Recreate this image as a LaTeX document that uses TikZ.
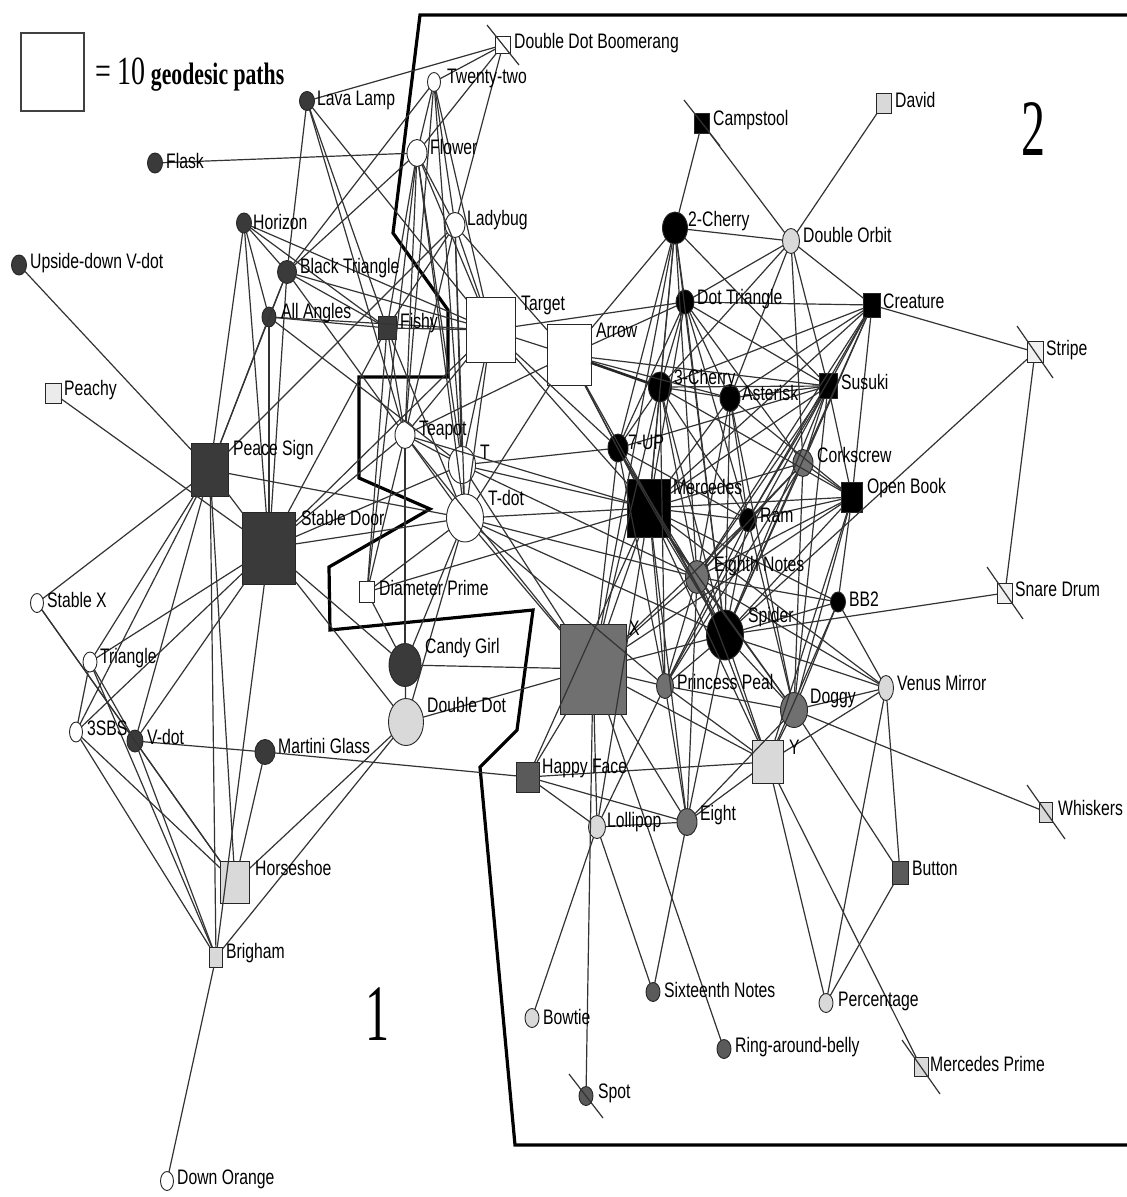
\documentclass[tikz,border=0pt]{standalone}
\usepackage{fontspec}
\usetikzlibrary{shapes.geometric,calc}
\newfontfamily\lblfont[FakeStretch=0.75]{Liberation Sans}
\newfontfamily\legfont[FakeStretch=0.7]{Liberation Serif}
\newfontfamily\numfont[FakeStretch=0.6]{Liberation Serif}
\definecolor{cdark}{HTML}{3A3A3A}
\definecolor{cmid}{HTML}{707070}
\definecolor{cmidd}{HTML}{5A5A5A}
\definecolor{clight}{HTML}{D9D9D9}
\tikzset{
  nd/.style={draw=black!85, line width=0.9pt, inner sep=0pt, outer sep=0pt},
  sq/.style={nd, rectangle},
  ci/.style={nd, ellipse},
  lbl/.style={anchor=west, inner sep=0pt, font={\lblfont\fontsize{21}{21}\selectfont}},
  edg/.style={line width=1.2pt, black!80},
  bnd/.style={line width=3.2pt, black, line join=miter},
}
\newcommand\SQ[6]{\node[sq, fill=#4, minimum width=#5pt, minimum height=#6pt] (#1) at (#2,#3) {};}
\newcommand\CI[6]{\node[ci, fill=#4, minimum width=#5pt, minimum height=#6pt] (#1) at (#2,#3) {};}
\newcommand\LB[4]{\node[lbl] (l#1) at (#2,#3) {#4};}
\begin{document}
\begin{tikzpicture}[x=1pt,y=-1pt]
\fill[white] (0,0) rectangle (1127,1197);
\useasboundingbox (0,0) rectangle (1127,1197);

% ---------- legend ----------
\node[draw=black!75, line width=2pt, minimum width=63pt, minimum height=78pt, inner sep=0pt] (legbox) at (52,72) {};
\node[anchor=west, inner sep=0pt] (legtext) at (95,75) {{\legfont\fontsize{40}{40}\selectfont = 10}\hspace{5pt}{\legfont\bfseries\fontsize{31}{31}\selectfont geodesic paths}};
\node[inner sep=0pt] (num1) at (377,1014) {\numfont\fontsize{80}{80}\selectfont 1};
\node[inner sep=0pt] (num2) at (1033,129) {\numfont\fontsize{80}{80}\selectfont 2};

% ---------- boundary ----------
\draw[bnd] (1127,15) -- (420,15) -- (393,233) -- (448,310) -- (448,377) -- (359,377) -- (359,478)
  -- (430,509) -- (329,567) -- (330,630) -- (533,610) -- (517,730) -- (480,767) -- (515,1145) -- (1127,1145);

% ---------- nodes ----------
\CI{lava}{307}{101}{cdark}{15}{19}
\CI{flask}{155}{163}{cdark}{15}{20}
\CI{horizon}{244}{223}{cdark}{15}{20}
\CI{udv}{19}{265}{cdark}{15}{20}
\CI{btri}{287}{272}{cdark}{19}{23}
\CI{allang}{269}{317}{cdark}{14}{20}
\SQ{fishy}{387}{328}{cdark}{18}{23}
\SQ{peachy}{53}{393}{white!92!black}{16}{20}
\SQ{peace}{210}{470}{cdark}{37}{53}
\SQ{sdoor}{269}{548}{cdark}{53}{72}
\CI{stabx}{37}{603}{white}{13}{19}
\CI{tri}{90}{662}{white}{14}{20}
\CI{sbs}{76}{732}{white}{13}{20}
\CI{vdot}{135}{741}{cdark}{16}{22}
\CI{martini}{265}{752}{cdark}{20}{25}
\SQ{horse}{235}{882}{clight}{29}{42}
\SQ{brig}{216}{957}{clight}{13}{20}
\CI{dorange}{167}{1181}{white}{13}{19}
\CI{twenty}{434}{82}{white}{13}{19}
\SQ{ddb}{503}{45}{white}{15}{17}
\CI{flower}{417}{153}{white}{20}{27}
\CI{lady}{455}{225}{white}{20}{25}
\SQ{target}{491}{330}{white}{49}{65}
\SQ{arrow}{569}{355}{white}{44}{61}
\CI{teapot}{405}{435}{white}{20}{27}
\CI{T}{462}{465}{white}{27}{37}
\CI{tdot}{465}{518}{white}{37}{48}
\SQ{diam}{367}{592}{white}{15}{21}
\CI{candy}{405}{665}{cdark}{32}{43}
\CI{ddot}{406}{722}{clight}{35}{47}
\SQ{happy}{528}{777}{cmidd}{23}{30}
\SQ{X}{593}{669}{cmid}{66}{90}
\CI{lolli}{597}{827}{clight}{17}{23}
\CI{eight}{687}{822}{cmid}{20}{27}
\CI{princess}{665}{686}{cmid}{17}{25}
\CI{eighth}{697}{577}{cmid}{23}{33}
\CI{spider}{725}{635}{black}{37}{50}
\SQ{merc}{649}{508}{black}{43}{58}
\CI{seven}{618}{448}{black}{20}{28}
\CI{cherry3}{660}{387}{black}{23}{30}
\CI{aster}{730}{398}{black}{20}{27}
\CI{dottri}{685}{302}{black}{18}{24}
\CI{cherry2}{675}{228}{black}{25}{32}
\SQ{camp}{702}{123}{black}{15}{20}
\SQ{david}{884}{103}{clight}{15}{20}
\CI{dorbit}{791}{241}{clight}{17}{25}
\SQ{creature}{872}{305}{black}{17}{24}
\SQ{stripe}{1035}{352}{white!94!black}{16}{21}
\SQ{susuki}{828}{386}{black}{18}{25}
\CI{cork}{803}{463}{cmid}{20}{27}
\SQ{obook}{852}{497}{black}{21}{30}
\CI{ram}{748}{520}{black}{17}{23}
\CI{bb2}{838}{602}{black}{15}{20}
\SQ{snare}{1005}{593}{white!94!black}{15}{20}
\CI{venus}{886}{688}{clight}{15}{25}
\CI{doggy}{794}{710}{cmid}{27}{35}
\SQ{Y}{768}{762}{clight}{31}{43}
\SQ{whisk}{1046}{812}{clight}{13}{20}
\SQ{button}{900}{873}{cmidd}{16}{23}
\CI{sixteen}{653}{992}{cmidd}{14}{19}
\CI{perc}{826}{1003}{clight}{14}{19}
\CI{ring}{724}{1049}{cmidd}{14}{19}
\SQ{mprime}{921}{1067}{clight}{14}{19}
\CI{bowtie}{532}{1018}{clight}{14}{19}
\CI{spot}{586}{1096}{cmidd}{14}{19}

% ---------- connectors ----------
\foreach \a/\b in {lava/ddb, lava/btri, lava/fishy, lava/target, lava/teapot,
 flask/flower,
 horizon/btri, horizon/fishy, horizon/peace, horizon/sdoor, horizon/allang, horizon/target,
 udv/peace,
 btri/flower, btri/twenty, btri/fishy, btri/sdoor, btri/peace, btri/target, btri/allang, btri/teapot,
 allang/peace, allang/sdoor, allang/fishy, allang/T, allang/target,
 fishy/target, fishy/teapot, fishy/tdot, fishy/diam,
 peachy/sdoor,
 peace/sdoor, peace/lady, peace/tdot, peace/tri, peace/sbs, peace/vdot, peace/brig, peace/horse, peace/stabx,
 sdoor/target, sdoor/teapot, sdoor/T, sdoor/tdot, sdoor/candy, sdoor/ddot, sdoor/tri, sdoor/sbs, sdoor/vdot, sdoor/brig, sdoor/fishy,
 stabx/vdot, stabx/horse,
 tri/vdot, tri/sbs, tri/brig,
 sbs/horse, sbs/brig,
 vdot/martini, vdot/horse, vdot/brig,
 martini/horse, martini/happy,
 horse/ddot, brig/ddot, brig/dorange,
 ddb/twenty, ddb/flower, ddb/lady,
 twenty/flower, twenty/teapot, twenty/T, twenty/target, twenty/lady,
 flower/lady, flower/target, flower/teapot, flower/T, flower/tdot, flower/diam, flower/fishy,
 lady/target, lady/arrow, lady/tdot, lady/teapot, lady/fishy, lady/T,
 target/arrow, target/T, target/tdot, target/teapot, target/merc, target/dottri, target/seven,
 arrow/cherry3, arrow/aster, arrow/susuki, arrow/merc, arrow/seven, arrow/teapot, arrow/tdot, arrow/dottri, arrow/cherry2, arrow/spider,
 teapot/T, teapot/tdot, teapot/X, teapot/diam, teapot/candy, teapot/merc,
 T/tdot, T/merc, T/seven, T/X, T/eighth,
 tdot/merc, tdot/X, tdot/eighth, tdot/princess, tdot/diam, tdot/candy, tdot/ddot, tdot/spider,
 diam/merc, diam/candy,
 candy/X, candy/ddot, ddot/X,
 merc/seven, merc/cherry3, merc/aster, merc/dottri, merc/cherry2, merc/ram, merc/obook, merc/eighth, merc/spider, merc/princess, merc/X, merc/doggy, merc/Y, merc/eight, merc/cork, merc/susuki, merc/creature, merc/bb2, merc/lolli, merc/happy, merc/venus,
 cherry2/dottri, cherry2/cherry3, cherry2/seven, cherry2/dorbit, cherry2/camp, cherry2/susuki, cherry2/spider, cherry2/eighth, cherry2/X,
 camp/dorbit, david/dorbit, dorbit/creature, dorbit/dottri, dorbit/susuki, dorbit/cork, dorbit/aster, dorbit/cherry3,
 dottri/susuki, dottri/cork, dottri/creature, dottri/aster, dottri/ram, dottri/cherry3, dottri/seven, dottri/spider,
 cherry3/aster, cherry3/susuki, cherry3/spider, cherry3/ram, cherry3/eighth, cherry3/obook, cherry3/creature, cherry3/seven, cherry3/X, cherry3/princess,
 aster/susuki, aster/spider, aster/ram, aster/obook, aster/eighth, aster/creature, aster/doggy,
 seven/X, seven/spider, seven/princess, seven/susuki, seven/ram, seven/eighth,
 creature/stripe, creature/susuki, creature/cork, creature/obook, creature/ram, creature/spider, creature/eighth,
 stripe/spider, stripe/snare,
 susuki/obook, susuki/cork, susuki/ram, susuki/eighth, susuki/spider, susuki/princess, susuki/doggy,
 cork/obook, cork/spider, cork/doggy, cork/ram, cork/princess, cork/eighth,
 obook/ram, obook/spider, obook/bb2, obook/doggy, obook/eighth, obook/Y, obook/X,
 ram/spider, ram/eighth, ram/doggy, ram/princess, ram/X,
 eighth/spider, eighth/bb2, eighth/doggy, eighth/princess, eighth/X, eighth/eight, eighth/venus, eighth/Y,
 spider/bb2, spider/doggy, spider/princess, spider/X, spider/Y, spider/venus, spider/eight, snare/spider,
 bb2/doggy, bb2/Y, bb2/venus,
 princess/X, princess/doggy, princess/Y, princess/eight, princess/lolli,
 doggy/Y, doggy/button, doggy/whisk, doggy/venus, doggy/eight,
 venus/Y, venus/button, venus/perc,
 Y/X, Y/perc, Y/mprime, Y/happy,
 button/perc,
 X/happy, X/lolli, X/spot, X/ring, X/eight,
 happy/lolli, happy/eight,
 lolli/eight, lolli/bowtie, lolli/sixteen,
 eight/sixteen, eight/Y}
 {\draw[edg] (\a) -- (\b);}
\draw[line width=2.6pt, black!85] (arrow) -- (cherry3);

% slash markers
\foreach \n/\dx/\dy in {ddb/16/20, camp/18/23, stripe/18/26, snare/18/26, whisk/19/27, mprime/19/27, spot/17/22}
 {\draw[edg] ($(\n)+(-\dx,-\dy)$) -- ($(\n)+(\dx,\dy)$);}

% ---------- labels ----------
\LB{lava}{317}{100}{Lava Lamp}
\LB{flask}{166}{161}{Flask}
\LB{horizon}{253}{222}{Horizon}
\LB{udv}{30}{263}{Upside-down V-dot}
\LB{btri}{300}{268}{Black Triangle}
\LB{allang}{281}{313}{All Angles}
\LB{fishy}{400}{323}{Fishy}
\LB{peachy}{64}{390}{Peachy}
\LB{peace}{233}{450}{Peace Sign}
\LB{sdoor}{301}{518}{Stable Door}
\LB{stabx}{47}{600}{Stable X}
\LB{tri}{100}{658}{Triangle}
\LB{sbs}{87}{728}{3SBS}
\LB{vdot}{147}{737}{V-dot}
\LB{martini}{278}{746}{Martini Glass}
\LB{horse}{255}{868}{Horseshoe}
\LB{brig}{226}{953}{Brigham}
\LB{dorange}{177}{1179}{Down Orange}
\LB{twenty}{447}{78}{Twenty-two}
\LB{ddb}{514}{43}{Double Dot Boomerang}
\LB{flower}{430}{147}{Flower}
\LB{lady}{467}{220}{Ladybug}
\LB{target}{521}{305}{Target}
\LB{arrow}{596}{330}{Arrow}
\LB{teapot}{419}{430}{Teapot}
\LB{T}{480}{452}{T}
\LB{tdot}{488}{498}{T-dot}
\LB{diam}{379}{588}{Diameter Prime}
\LB{candy}{425}{648}{Candy Girl}
\LB{ddot}{427}{705}{Double Dot}
\LB{X}{629}{628}{X}
\LB{happy}{542}{768}{Happy Face}
\LB{lolli}{607}{822}{Lollipop}
\LB{eight}{700}{815}{Eight}
\LB{princess}{677}{682}{Princess Peal}
\LB{eighth}{714}{566}{Eighth Notes}
\LB{spider}{748}{617}{Spider}
\LB{merc}{673}{487}{Mercedes}
\LB{ram}{760}{515}{Ram}
\LB{seven}{628}{442}{7-UP}
\LB{cherry3}{674}{379}{3-Cherry}
\LB{aster}{742}{393}{Asterisk}
\LB{dottri}{697}{299}{Dot Triangle}
\LB{cherry2}{688}{221}{2-Cherry}
\LB{camp}{713}{120}{Campstool}
\LB{david}{895}{100}{David}
\LB{dorbit}{803}{235}{Double Orbit}
\LB{creature}{883}{301}{Creature}
\LB{stripe}{1046}{350}{Stripe}
\LB{susuki}{841}{382}{Susuki}
\LB{cork}{817}{455}{Corkscrew}
\LB{obook}{867}{488}{Open Book}
\LB{bb2}{849}{599}{BB2}
\LB{snare}{1015}{589}{Snare Drum}
\LB{venus}{897}{683}{Venus Mirror}
\LB{doggy}{810}{698}{Doggy}
\LB{Y}{789}{747}{Y}
\LB{whisk}{1058}{808}{Whiskers}
\LB{button}{912}{868}{Button}
\LB{sixteen}{664}{990}{Sixteenth Notes}
\LB{perc}{838}{1001}{Percentage}
\LB{ring}{735}{1047}{Ring-around-belly}
\LB{mprime}{930}{1064}{Mercedes Prime}
\LB{bowtie}{543}{1017}{Bowtie}
\LB{spot}{598}{1093}{Spot}
\end{tikzpicture}
\end{document}
